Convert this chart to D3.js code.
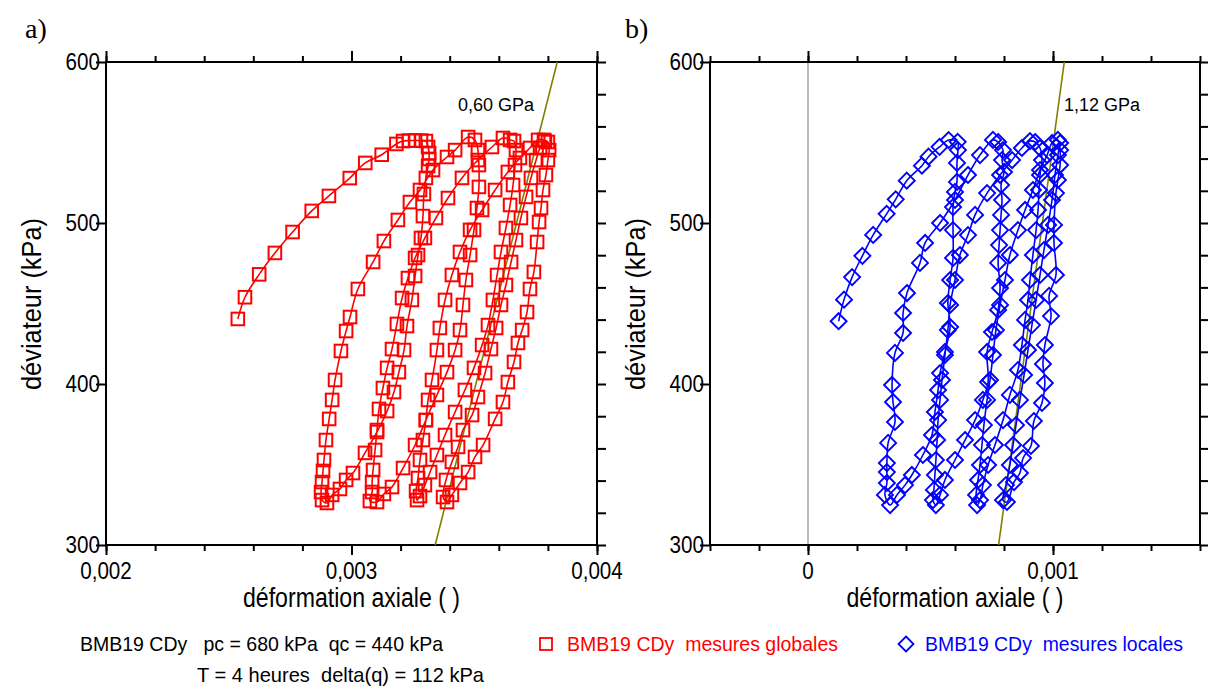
<!DOCTYPE html>
<html><head><meta charset="utf-8">
<script src="https://cdn.jsdelivr.net/npm/d3@7"></script>
<style>
body{margin:0;background:#fff}
text{font-family:'Liberation Sans',Arial,sans-serif;white-space:pre}
</style></head>
<body><svg id="chart"></svg>
<script>
// ---------- DATA ----------
// a) global measurements (axial strain, deviator kPa)
const globalStrain = [
 0.002537,0.002566,0.002624,0.002688,0.002760,0.002838,0.002908,0.002993,0.003056,0.003123,0.003183,
 0.003210,0.003234,0.003259,0.003283,0.003303,
 0.003312,0.003316,0.003316,0.003312,0.003303,0.003295,0.003291,0.003283,0.003271,0.003259,0.003246,0.003226,0.003214,0.003193,0.003173,0.003145,0.003104,0.003055,0.003006,0.002978,0.002953,0.002921,0.002900,
 0.002880,0.002876,0.002880,0.002884,0.002888,0.002896,0.002909,0.002921,0.002933,0.002957,0.002978,0.002994,0.003026,0.003088,0.003132,0.003189,0.003238,0.003279,0.003332,0.003389,0.003422,0.003475,
 0.003503,
 0.003515,0.003519,0.003519,0.003511,0.003499,0.003483,0.003466,0.003454,0.003442,0.003422,0.003389,0.003348,0.003303,0.003259,0.003210,0.003165,0.003132,0.003104,
 0.003075,0.003084,0.003084,0.003088,0.003096,0.003104,0.003112,0.003128,0.003145,0.003165,0.003185,0.003206,0.003230,0.003259,0.003299,0.003344,0.003393,0.003450,0.003515,0.003572,0.003617,
 0.003646,0.003662,
 0.003670,0.003666,0.003658,0.003646,0.003629,0.003609,0.003593,0.003576,0.003556,0.003532,0.003499,0.003462,0.003422,0.003381,0.003348,0.003320,0.003299,0.003279,
 0.003267,0.003263,0.003271,0.003279,0.003291,0.003303,0.003312,0.003328,0.003348,0.003360,0.003381,0.003409,0.003442,0.003483,0.003532,0.003585,0.003637,0.003686,0.003727,0.003760,
 0.003784,0.003800,
 0.003805,0.003800,0.003792,0.003780,0.003772,0.003764,0.003756,0.003743,0.003727,0.003715,0.003695,0.003678,0.003662,0.003637,0.003617,0.003585,0.003536,0.003503,0.003475,0.003442,0.003409,0.003389,
 0.003373,0.003385,0.003409,0.003434,0.003454,0.003491,0.003515,0.003544,0.003568,0.003589,0.003609,0.003629,0.003650,0.003670,0.003690,0.003711,0.003731,0.003752,0.003768,0.003788
];
const globalDeviator = [
 440.4,453.9,468.1,481.4,494.4,507.5,516.8,527.9,537.3,542.4,549.1,
 550.9,551.2,551.2,551.2,550.9,
 547.2,543.5,539.8,535.4,528.0,518.0,504.3,490.7,480.1,467.1,452.2,436.0,421.1,407.4,395.0,383.2,370.2,357.2,344.7,340.4,334.8,331.1,326.1,
 327.9,332.9,339.1,346.0,352.8,365.2,378.3,390.1,402.5,420.5,432.9,441.6,459.0,475.8,488.8,501.9,513.0,520.5,532.9,541.0,545.3,553.4,
 551.6,
 545.3,536.0,522.4,509.3,495.7,480.1,464.6,449.1,433.5,421.1,407.4,393.2,377.6,362.1,347.8,336.0,331.7,326.7,
 327.3,332.9,339.1,346.6,359.0,371.4,384.5,397.5,410.0,421.7,437.3,453.4,465.8,478.3,490.7,503.1,515.5,528.0,539.1,547.2,552.8,
 551.6,550.9,
 545.3,536.0,523.6,511.2,496.9,482.0,467.7,452.2,436.6,424.2,410.0,396.3,382.6,368.3,355.9,345.3,337.2,330.4,
 327.9,333.5,341.6,352.8,365.2,377.6,390.1,402.5,421.1,434.8,452.2,467.7,482.0,495.7,508.1,520.5,531.7,540.4,546.6,551.6,
 551.6,550.3,
 545.3,539.1,529.8,520.5,509.3,500.6,488.2,469.6,459.0,444.7,433.5,425.5,413.7,401.2,388.8,378.3,362.1,354.7,345.3,338.5,331.1,326.7,
 329.8,340.4,351.6,360.9,371.4,380.7,391.9,406.8,421.7,434.8,449.1,461.5,475.8,489.4,503.1,516.2,528.0,539.1,546.6,550.9
];
// b) local measurements
const localStrain = [
 0.000125,0.000147,0.000180,0.000222,0.000266,0.000321,0.000358,0.000403,0.000465,0.000492,0.000537,0.000574,
 0.000611,
 0.000612,0.000608,0.000608,0.000600,0.000592,0.000592,0.000592,0.000580,0.000571,0.000580,0.000559,0.000539,0.000531,0.000518,0.000506,0.000469,0.000424,0.000396,0.000363,0.000335,
 0.000314,0.000322,0.000322,0.000322,0.000327,0.000355,0.000347,0.000343,0.000355,0.000388,0.000388,0.000404,0.000457,0.000478,0.000539,0.000600,0.000653,0.000702,0.000755,
 0.000776,
 0.000796,0.000792,0.000800,0.000788,0.000792,0.000788,0.000784,0.000780,0.000776,0.000784,0.000776,0.000751,0.000731,0.000735,0.000714,0.000682,0.000641,0.000600,0.000559,0.000539,0.000522,
 0.000510,0.000514,0.000518,0.000522,0.000527,0.000531,0.000539,0.000547,0.000559,0.000571,0.000580,0.000600,0.000620,0.000653,0.000682,0.000731,0.000784,0.000833,0.000873,0.000906,
 0.000927,0.000947,0.000955,0.000947,0.000943,0.000939,0.000931,0.000918,0.000906,0.000898,0.000886,0.000873,0.000857,0.000824,0.000796,0.000763,0.000735,0.000714,0.000702,
 0.000690,0.000686,0.000694,0.000702,0.000710,0.000718,0.000731,0.000743,0.000755,0.000767,0.000784,0.000804,0.000824,0.000857,0.000886,0.000918,0.000947,0.000976,0.000996,
 0.001020,
 0.001029,0.001029,0.001020,0.001012,0.001004,0.001004,0.001012,0.000984,0.000992,0.000967,0.000959,0.000967,0.000955,0.000922,0.000910,0.000878,0.000865,0.000841,0.000812,
 0.000796,0.000808,0.000824,0.000837,0.000849,0.000865,0.000882,0.000898,0.000914,0.000931,0.000947,0.000963,0.000980,0.000996,0.001008,0.001020,0.001029
];
const localDeviator = [
 439.0,452.4,466.4,479.6,492.6,505.7,514.7,526.3,535.6,541.2,547.3,551.5,
 550.4,
 545.3,537.3,525.5,519.3,509.9,495.6,478.3,464.6,450.3,435.4,419.9,406.8,396.3,382.6,368.3,355.9,343.5,337.2,331.1,324.8,
 331.1,338.5,345.3,350.9,363.4,376.4,388.8,399.4,419.3,431.7,444.1,456.5,475.2,487.6,500.0,514.3,529.8,542.2,551.6,
 550.3,
 545.3,539.1,531.7,523.6,514.3,505.0,495.6,486.3,475.2,459.6,446.0,432.3,419.9,401.2,390.1,377.6,365.2,352.8,340.4,331.1,324.8,
 327.9,334.2,343.5,352.8,365.2,377.6,390.1,402.5,418.0,433.5,449.1,464.6,480.1,492.5,505.0,518.6,529.8,539.1,546.6,550.9,
 550.3,546.6,539.1,529.8,520.5,508.1,495.6,480.1,464.6,452.2,439.8,424.2,408.7,393.2,377.6,362.1,349.7,337.2,327.9,
 324.8,331.1,340.4,349.7,362.1,374.5,390.1,402.5,418.0,433.5,449.1,464.6,480.1,495.6,508.1,520.5,532.9,542.2,549.7,
 551.6,
 545.3,536.0,526.7,518.6,498.8,487.6,467.7,454.7,442.2,424.2,412.4,400.6,388.2,377.0,361.5,354.0,344.7,339.1,326.7,
 327.9,337.2,349.7,362.1,374.5,390.1,405.6,421.1,436.6,452.2,467.7,483.2,498.8,514.3,529.8,542.2,549.7
];
// modulus lines (strain, deviator) end points
const modulusA = [[0.003341,300],[0.003838,600]];
const modulusB = [[0.000778,300],[0.001046,600]];
// axes
const yTicks = [300,400,500,600];
const yMinor = [300,320,340,360,380,400,420,440,460,480,500,520,540,560,580,600];
const xMajorA = [0.002,0.003,0.004];
const xMinorA = [0.002,0.0022,0.0024,0.0026,0.0028,0.003,0.0032,0.0034,0.0036,0.0038,0.004];
const xMajorB = [0,0.001];
const xMinorB = [-0.0004,-0.0002,0,0.0002,0.0004,0.0006,0.0008,0.001,0.0012,0.0014,0.0016];
const xTickLabelsA = ["0,002","0,003","0,004"];
const xTickLabelsB = ["0","0,001"];
const xTitle = "déformation axiale ( )";
const yTitle = "déviateur (kPa)";
const legendInfo1 = "BMB19 CDy   pc = 680 kPa  qc = 440 kPa";
const legendInfo2 = "T = 4 heures  delta(q) = 112 kPa";
const legendGlobal = "BMB19 CDy  mesures globales";
const legendLocal = "BMB19 CDy  mesures locales";

// ---------- DRAW ----------
const W=1208,H=686;
const svg=d3.select("#chart").attr("width",W).attr("height",H);
const TOP=62,BOT=545;
const y=d3.scaleLinear().domain([300,600]).range([BOT,TOP]);
const SX=0.86;

function ctext(g,x,yy,str,o){
  const t=g.append("text").attr("x",x).attr("y",yy).text(str)
    .attr("font-size",o.size).attr("fill",o.fill||"#000")
    .attr("text-anchor",o.anchor||"start");
  if(o.len){t.attr("textLength",o.len).attr("lengthAdjust","spacingAndGlyphs");}
  if(o.rotate){t.attr("transform",`rotate(-90,${x},${yy})`);}
  if(o.family){t.style("font-family",o.family);}
  return t;
}

const panels=[
 {letter:"a)",lx:25,x0:106,x1:597,dom:[0.002,0.004],maj:xMajorA,min:xMinorA,labels:xTickLabelsA,
  sx:globalStrain,sy:globalDeviator,color:"#ff0000",marker:"square",mod:modulusA,modLabel:"0,60 GPa",
  modLx:534,modAnchor:"end",ytx:32,xtLen:217},
 {letter:"b)",lx:625,x0:710,x1:1200,dom:[-0.0004,0.0016],maj:xMajorB,min:xMinorB,labels:xTickLabelsB,
  sx:localStrain,sy:localDeviator,color:"#0000ff",marker:"diamond",mod:modulusB,modLabel:"1,12 GPa",
  modLx:1064,modAnchor:"start",ytx:636,xtLen:217,zero:true}
];

const diamondPath=r=>`M0,${-r}L${r},0L0,${r}L${-r},0Z`;

panels.forEach(p=>{
  const x=d3.scaleLinear().domain(p.dom).range([p.x0,p.x1]);
  const g=svg.append("g");
  if(p.zero){
    g.append("line").attr("x1",x(0)).attr("x2",x(0)).attr("y1",TOP).attr("y2",BOT)
     .attr("stroke","#8c8c8c").attr("stroke-width",1.2);
  }
  const tick=(sel)=>sel.selectAll("path.domain").remove();
  g.append("g").attr("transform",`translate(0,${BOT})`).call(d3.axisBottom(x).tickValues(p.min).tickSize(6).tickFormat("")).call(tick);
  g.append("g").attr("transform",`translate(0,${BOT})`).call(d3.axisBottom(x).tickValues(p.maj).tickSize(10).tickFormat("")).call(tick);
  g.append("g").attr("transform",`translate(0,${TOP})`).call(d3.axisTop(x).tickValues(p.min).tickSize(6).tickFormat("")).call(tick);
  g.append("g").attr("transform",`translate(0,${TOP})`).call(d3.axisTop(x).tickValues(p.maj).tickSize(11).tickFormat("")).call(tick);
  g.append("g").attr("transform",`translate(${p.x0},0)`).call(d3.axisLeft(y).tickValues(yTicks).tickSize(10).tickFormat("")).call(tick);
  g.append("g").attr("transform",`translate(${p.x1},0)`).call(d3.axisRight(y).tickValues(yMinor).tickSize(9).tickFormat("")).call(tick);
  g.selectAll(".tick line").attr("stroke","#000").attr("stroke-width",2);
  g.append("rect").attr("x",p.x0).attr("y",TOP).attr("width",p.x1-p.x0).attr("height",BOT-TOP)
   .attr("fill","none").attr("stroke","#000").attr("stroke-width",2);
  p.maj.forEach((v,i)=>{
    const gg=g.append("g").attr("transform",`translate(${x(v)},579) scale(${SX},1)`);
    ctext(gg,0,0,p.labels[i],{size:24,anchor:"middle"});
  });
  yTicks.forEach(v=>{
    const gg=g.append("g").attr("transform",`translate(${p.x0-6},${y(v)+8}) scale(${SX},1)`);
    ctext(gg,0,0,String(v),{size:24,anchor:"end"});
  });
  ctext(g,(p.x0+p.x1)/2,607,xTitle,{size:27,anchor:"middle",len:p.xtLen});
  ctext(g,p.ytx+9,304,yTitle,{size:27,anchor:"middle",len:172,rotate:true});
  ctext(g,p.lx,38,p.letter,{size:28,family:"'Liberation Serif','Times New Roman',serif"});
  g.append("line").attr("x1",x(p.mod[0][0])).attr("y1",y(p.mod[0][1]))
   .attr("x2",x(p.mod[1][0])).attr("y2",y(p.mod[1][1]))
   .attr("stroke","#808000").attr("stroke-width",1.6);
  ctext(g,p.modLx,111,p.modLabel,{size:18,anchor:p.modAnchor});
  const pts=p.sx.map((s,i)=>[s,p.sy[i]]);
  const line=d3.line().x(d=>x(d[0])).y(d=>y(d[1])).curve(d3.curveCatmullRom.alpha(0.5));
  g.append("path").attr("d",line(pts)).attr("fill","none").attr("stroke",p.color).attr("stroke-width",1.6);
  const mk=g.append("g");
  if(p.marker==="square"){
    mk.selectAll("rect").data(pts).join("rect")
      .attr("x",d=>x(d[0])-6.3).attr("y",d=>y(d[1])-6.3).attr("width",12.6).attr("height",12.6)
      .attr("fill","none").attr("stroke",p.color).attr("stroke-width",2);
  } else {
    mk.selectAll("path").data(pts).join("path")
      .attr("transform",d=>`translate(${x(d[0])},${y(d[1])})`).attr("d",diamondPath(8))
      .attr("fill","none").attr("stroke",p.color).attr("stroke-width",1.9);
  }
});

const lg=svg.append("g");
ctext(lg,80,651,legendInfo1,{size:21,len:363});
ctext(lg,197,682,legendInfo2,{size:21,len:287});
lg.append("rect").attr("x",540).attr("y",638).attr("width",12).attr("height",12)
  .attr("fill","none").attr("stroke","#ff0000").attr("stroke-width",1.8);
ctext(lg,567,651,legendGlobal,{size:21,fill:"#ff0000",len:271});
lg.append("path").attr("transform","translate(906,644)").attr("d",diamondPath(7.5))
  .attr("fill","none").attr("stroke","#0000ff").attr("stroke-width",1.8);
ctext(lg,925,651,legendLocal,{size:21,fill:"#0000ff",len:258});
</script></body></html>
